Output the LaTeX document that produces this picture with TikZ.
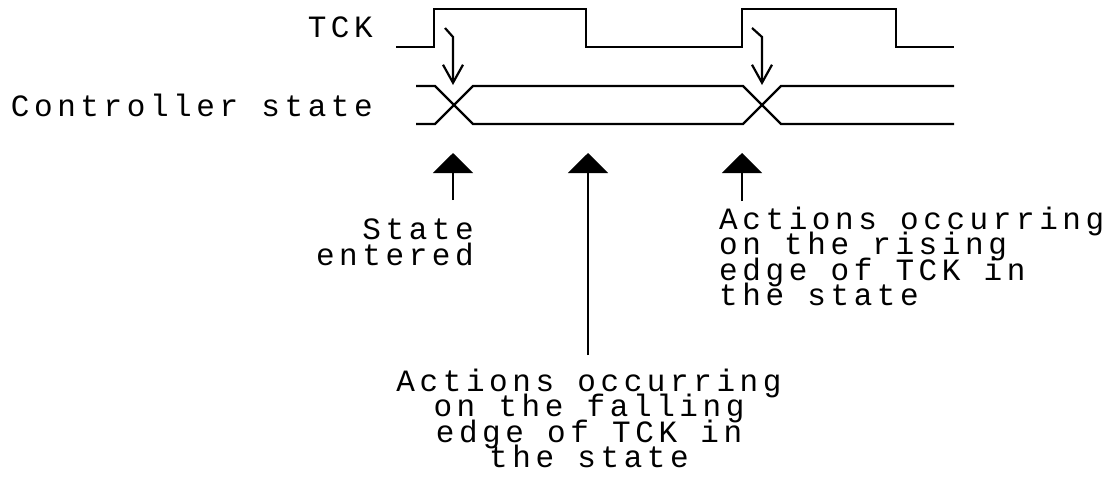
\documentclass[tikz,border=0pt]{standalone}
\usepackage{fontspec}
\usetikzlibrary{arrows.meta}
\newfontfamily\plotfont[LetterSpace=14.8]{Liberation Mono}
\newcommand\plotsize{\plotfont\fontsize{31}{25.5}\selectfont\lineskiplimit=-1000pt\relax\lineskip=0pt\relax}
\begin{document}
\begin{tikzpicture}[x=1pt,y=-1pt,
  wave/.style={line width=2.4pt,line join=miter},
  lbl/.style={inner sep=0pt,font=\plotsize},
  tickarrow/.style={line width=2.2pt,-{Straight Barb[length=18pt,width=20pt,line width=2.2pt]}},
  markarrow/.style={line width=2.2pt,-{Triangle[length=20pt,width=40pt]}}]
\useasboundingbox (0,0) rectangle (1115,485);
% TCK waveform
\draw[wave] (396,47) -- (434,47) -- (434,9) -- (586,9) -- (586,47) -- (742,47) -- (742,9) -- (896,9) -- (896,47) -- (954,47);
% Controller state
\draw[wave] (416,86) -- (435,86) -- (473,124) -- (743,124) -- (781,86) -- (954,86);
\draw[wave] (416,124) -- (435,124) -- (473,86) -- (743,86) -- (781,124) -- (954,124);
% labels
\node[lbl,anchor=base east] (tck) at (373,37) {TCK};
\node[lbl,anchor=base east] (cs) at (373,116) {Controller state};
% rising-edge pointer arrows
\coordinate (r1s) at (445,28); \coordinate (r1b) at (453,37); \coordinate (x1) at (453,85);
\coordinate (r2s) at (752,28); \coordinate (r2b) at (762,37); \coordinate (x2) at (762,85);
\draw[tickarrow] (r1s) -- (r1b) -- (x1);
\draw[tickarrow] (r2s) -- (r2b) -- (x2);
% marker texts
\node[lbl,anchor=north east,align=right] (entered) at (474,219) {State\\entered};
\node[lbl,anchor=north west,align=left] (rising) at (719,206.4) {Actions occurring\\on the rising\\edge of TCK in\\the state};
\node[lbl,anchor=north,align=center] (falling) at (589,368.4) {Actions occurring\\on the falling\\edge of TCK in\\the state};
% marker arrows
\coordinate (m1) at (453,153); \coordinate (m2) at (588,153); \coordinate (m3) at (742,153);
\coordinate (s1) at (453,200); \coordinate (s2) at (588,355); \coordinate (s3) at (742,201);
\draw[markarrow] (s1) -- (m1);
\draw[markarrow] (s2) -- (m2);
\draw[markarrow] (s3) -- (m3);
\end{tikzpicture}
\end{document}
